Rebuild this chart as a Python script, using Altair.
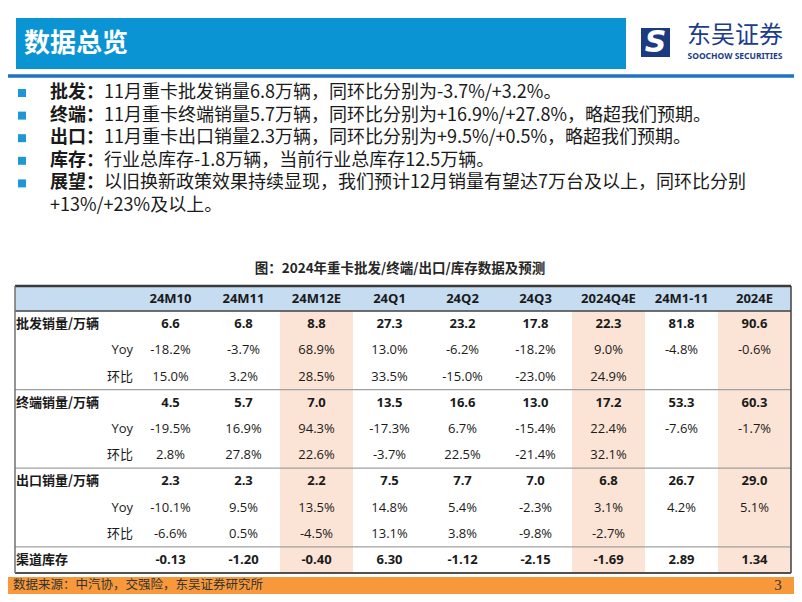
import altair as alt
import pandas as pd

CJK = "Noto Sans CJK SC"
MIX = "Open Sans, Noto Sans CJK SC"
DARK = "#1a1a1a"

# ---------------- data ----------------
banner_title = ["数据总览"]
logo_cn = ["东吴证券"]
logo_en = ["SOOCHOW SECURITIES"]

bullet_labels = ["批发：", "终端：", "出口：", "库存：", "展望："]
bullet_texts = [
    "11月重卡批发销量6.8万辆，同环比分别为-3.7%/+3.2%。",
    "11月重卡终端销量5.7万辆，同环比分别为+16.9%/+27.8%，略超我们预期。",
    "11月重卡出口销量2.3万辆，同环比分别为+9.5%/+0.5%，略超我们预期。",
    "行业总库存-1.8万辆，当前行业总库存12.5万辆。",
    " 以旧换新政策效果持续显现，我们预计12月销量有望达7万台及以上，同环比分别",
]
bullet_cont = ["+13%/+23%及以上。"]

table_title = ["图：2024年重卡批发/终端/出口/库存数据及预测"]

columns = ["24M10", "24M11", "24M12E", "24Q1", "24Q2", "24Q3", "2024Q4E", "24M1-11", "2024E"]
highlight_cols = ["24M12E", "2024Q4E", "2024E"]

row_ids = ["批发", "批发Yoy", "批发环比", "终端", "终端Yoy", "终端环比",
           "出口", "出口Yoy", "出口环比", "库存"]
main_rows = ["批发", "终端", "出口", "库存"]
main_labels = ["批发销量/万辆", "终端销量/万辆", "出口销量/万辆", "渠道库存"]
sub_rows = ["批发Yoy", "批发环比", "终端Yoy", "终端环比", "出口Yoy", "出口环比"]
sub_labels = ["Yoy", "环比", "Yoy", "环比", "Yoy", "环比"]
group_starts = ["终端", "出口", "库存"]

pifa = [6.6, 6.8, 8.8, 27.3, 23.2, 17.8, 22.3, 81.8, 90.6]
pifa_yoy = [-18.2, -3.7, 68.9, 13.0, -6.2, -18.2, 9.0, -4.8, -0.6]
pifa_qoq = [15.0, 3.2, 28.5, 33.5, -15.0, -23.0, 24.9, None, None]
zhongduan = [4.5, 5.7, 7.0, 13.5, 16.6, 13.0, 17.2, 53.3, 60.3]
zd_yoy = [-19.5, 16.9, 94.3, -17.3, 6.7, -15.4, 22.4, -7.6, -1.7]
zd_qoq = [2.8, 27.8, 22.6, -3.7, 22.5, -21.4, 32.1, None, None]
chukou = [2.3, 2.3, 2.2, 7.5, 7.7, 7.0, 6.8, 26.7, 29.0]
ck_yoy = [-10.1, 9.5, 13.5, 14.8, 5.4, -2.3, 3.1, 4.2, 5.1]
ck_qoq = [-6.6, 0.5, -4.5, 13.1, 3.8, -9.8, -2.7, None, None]
kucun = [-0.13, -1.20, -0.40, 6.30, -1.12, -2.15, -1.69, 2.89, 1.34]

footer_text = ["数据来源：中汽协，交强险，东吴证券研究所"]
page_no = ["3"]

# ---------------- tables ----------------
series = {
    "批发": (pifa, "{:.1f}"), "批发Yoy": (pifa_yoy, "{:.1f}%"), "批发环比": (pifa_qoq, "{:.1f}%"),
    "终端": (zhongduan, "{:.1f}"), "终端Yoy": (zd_yoy, "{:.1f}%"), "终端环比": (zd_qoq, "{:.1f}%"),
    "出口": (chukou, "{:.1f}"), "出口Yoy": (ck_yoy, "{:.1f}%"), "出口环比": (ck_qoq, "{:.1f}%"),
    "库存": (kucun, "{:.2f}"),
}
recs = []
for rid, (vals, fmt) in series.items():
    for c, v in zip(columns, vals):
        if v is None:
            continue
        recs.append({"row": rid, "col": c, "txt": fmt.format(v), "main": rid in main_rows})
cells = pd.DataFrame(recs)

one = pd.DataFrame({"k": [0]})

W, H = 786, 586
TOP, HB, BOT = 278, 303, 565
xs = alt.Scale(type="band", domain=columns, range=[126, 783], paddingInner=0, paddingOuter=0)
ys = alt.Scale(type="band", domain=row_ids, range=[HB, BOT], paddingInner=0, paddingOuter=0)
ls = alt.Scale(type="point", domain=list(range(6)), range=[85, 198], padding=0)

def X(bp=0.5):
    return alt.X("col:N", scale=xs, axis=None, bandPosition=bp)

def Y(bp=0.5):
    return alt.Y("row:N", scale=ys, axis=None, bandPosition=bp)

layers = []

# banner
layers.append(alt.Chart(one).mark_rect(color="#0a94d4").encode(
    x=alt.value(8), x2=alt.value(618), y=alt.value(10), y2=alt.value(61)))
layers.append(alt.Chart(pd.DataFrame({"t": banner_title})).mark_text(
    font=CJK, fontSize=26, fontWeight="bold", color="white", align="left", baseline="middle"
).encode(x=alt.value(16), y=alt.value(36), text="t:N"))
layers.append(alt.Chart(one).mark_rule(color="#1f73c4", strokeWidth=3.5).encode(
    x=alt.value(0), x2=alt.value(786), y=alt.value(68)))

# logo
layers.append(alt.Chart(one).mark_rect(color="#1b3a80").encode(
    x=alt.value(633), x2=alt.value(662), y=alt.value(20), y2=alt.value(49)))
layers.append(alt.Chart(pd.DataFrame({"t": ["S"]})).mark_text(
    font="DejaVu Sans", fontSize=30, fontWeight="bold", fontStyle="italic", color="#ffffff",
    align="center", baseline="middle").encode(x=alt.value(647.5), y=alt.value(35), text="t:N"))
layers.append(alt.Chart(pd.DataFrame({"t": logo_cn})).mark_text(
    font=CJK, fontSize=24, color="#1c3c8c", align="center", baseline="middle"
).encode(x=alt.value(727), y=alt.value(28), text="t:N"))
layers.append(alt.Chart(pd.DataFrame({"t": logo_en})).mark_text(
    font="Noto Sans", fontSize=8.5, fontWeight="bold", color="#1c3c8c", align="center", baseline="middle"
).encode(x=alt.value(727), y=alt.value(47.5), text="t:N"))

# bullets
bl = pd.DataFrame({"line": list(range(5)), "lab": bullet_labels, "txt": bullet_texts})
layers.append(alt.Chart(bl).mark_square(size=64, color="#1f96d6", opacity=1).encode(
    x=alt.value(14), y=alt.Y("line:O", scale=ls, axis=None)))
layers.append(alt.Chart(bl).mark_text(
    font=CJK, fontSize=18, fontWeight="bold", color=DARK, align="left", baseline="middle"
).encode(x=alt.value(42), y=alt.Y("line:O", scale=ls, axis=None), text="lab:N"))
layers.append(alt.Chart(bl).mark_text(
    font=CJK, fontSize=18, color=DARK, align="left", baseline="middle"
).encode(x=alt.value(96), y=alt.Y("line:O", scale=ls, axis=None), text="txt:N"))
layers.append(alt.Chart(pd.DataFrame({"line": [5], "txt": bullet_cont})).mark_text(
    font=CJK, fontSize=18, color=DARK, align="left", baseline="middle"
).encode(x=alt.value(42), y=alt.Y("line:O", scale=ls, axis=None), text="txt:N"))

# table title
layers.append(alt.Chart(pd.DataFrame({"t": table_title})).mark_text(
    font=CJK, fontSize=13.5, fontWeight="bold", color="#262626", align="center", baseline="middle"
).encode(x=alt.value(392), y=alt.value(261), text="t:N"))

# header background + highlights
layers.append(alt.Chart(one).mark_rect(color="#c6ddf1").encode(
    x=alt.value(7), x2=alt.value(783), y=alt.value(TOP), y2=alt.value(HB)))
layers.append(alt.Chart(pd.DataFrame({"col": highlight_cols})).mark_rect(color="#fbe4d6").encode(
    x=X(0), y=alt.value(HB), y2=alt.value(BOT)))

# header text
layers.append(alt.Chart(pd.DataFrame({"col": columns})).mark_text(
    font=MIX, fontSize=13, fontWeight="bold", color=DARK, baseline="middle"
).encode(x=X(), y=alt.value((TOP + HB) / 2), text="col:N"))

# separators & borders
layers.append(alt.Chart(pd.DataFrame({"row": group_starts})).mark_rule(color="#a0a0a0", strokeWidth=1.2).encode(
    y=Y(0), x=alt.value(7), x2=alt.value(783)))
layers.append(alt.Chart(one).mark_rule(color="#3a3a3a", strokeWidth=2.5).encode(
    x=alt.value(7), x2=alt.value(783), y=alt.value(TOP)))
layers.append(alt.Chart(one).mark_rule(color="#404040", strokeWidth=1.5).encode(
    x=alt.value(7), x2=alt.value(783), y=alt.value(HB)))
layers.append(alt.Chart(one).mark_rule(color="#505050", strokeWidth=1.8).encode(
    x=alt.value(7), x2=alt.value(783), y=alt.value(BOT)))
layers.append(alt.Chart(one).mark_rule(color="#707070", strokeWidth=1.5).encode(
    x=alt.value(7), y=alt.value(TOP), y2=alt.value(BOT)))
layers.append(alt.Chart(one).mark_rule(color="#404040", strokeWidth=1.5).encode(
    x=alt.value(783), y=alt.value(TOP), y2=alt.value(BOT)))

# row labels
layers.append(alt.Chart(pd.DataFrame({"row": main_rows, "lab": main_labels})).mark_text(
    font=CJK, fontSize=13, fontWeight="bold", color=DARK, align="left", baseline="middle"
).encode(x=alt.value(8), y=Y(), text="lab:N"))
layers.append(alt.Chart(pd.DataFrame({"row": sub_rows, "lab": sub_labels})).mark_text(
    font=MIX, fontSize=13, color=DARK, align="right", baseline="middle"
).encode(x=alt.value(125), y=Y(), text="lab:N"))

# cell values
layers.append(alt.Chart(cells[cells["main"]]).mark_text(
    font=MIX, fontSize=13, fontWeight="bold", color=DARK, baseline="middle"
).encode(x=X(), y=Y(), text="txt:N"))
layers.append(alt.Chart(cells[~cells["main"]]).mark_text(
    font=MIX, fontSize=13, color=DARK, baseline="middle"
).encode(x=X(), y=Y(), text="txt:N"))

# footer
layers.append(alt.Chart(one).mark_rect(color="#f7993a").encode(
    x=alt.value(0), x2=alt.value(786), y=alt.value(569), y2=alt.value(586)))
layers.append(alt.Chart(pd.DataFrame({"t": footer_text})).mark_text(
    font=CJK, fontSize=12.5, color="#333333", align="left", baseline="middle"
).encode(x=alt.value(5), y=alt.value(577), text="t:N"))
layers.append(alt.Chart(pd.DataFrame({"t": page_no})).mark_text(
    font="Liberation Serif", fontSize=15, color="#333333", align="center", baseline="middle"
).encode(x=alt.value(770), y=alt.value(577), text="t:N"))

chart = alt.layer(*layers).resolve_scale(x="independent", y="independent").properties(
    width=W, height=H, padding=0, autosize=alt.AutoSizeParams(type="none"),
    background="white"
).configure_view(stroke=None)

chart.save("out.html", embed_options={"renderer": "svg", "actions": False})
